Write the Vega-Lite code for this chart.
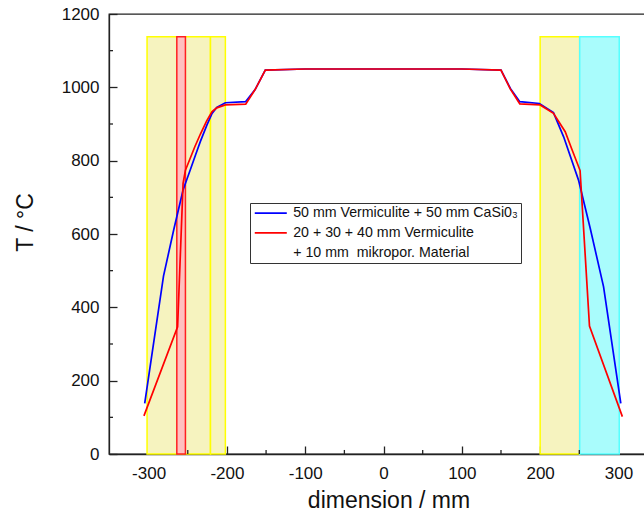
{
  "$schema": "https://vega.github.io/schema/vega-lite/v6.json",
  "width": 536,
  "height": 440,
  "autosize": {"type": "none"},
  "padding": {"left": 109, "top": 14, "right": 0, "bottom": 63},
  "background": "white",
  "config": {
    "view": {"stroke": "#222", "strokeWidth": 1.3},
    "axis": {
      "grid": false,
      "domainColor": "#222",
      "domainWidth": 1.3,
      "tickColor": "#222",
      "tickWidth": 1.3,
      "labelFont": "Liberation Sans",
      "labelFontSize": 17,
      "labelColor": "#111",
      "titleFont": "Liberation Sans",
      "titleFontSize": 23,
      "titleFontWeight": "normal",
      "titleColor": "#111"
    }
  },
  "datasets": {
    "zones": [
      {"from": -302, "to": -221, "bottom": 0, "top": 1138, "zone": "A"},
      {"from": -221, "to": -202, "bottom": 0, "top": 1138, "zone": "A"},
      {"from": -264, "to": -253, "bottom": 0, "top": 1138, "zone": "B"},
      {"from": 200, "to": 250.5, "bottom": 0, "top": 1138, "zone": "A"},
      {"from": 250.5, "to": 301, "bottom": 0, "top": 1138, "zone": "C"}
    ],
    "minorX": [{"v": -250}, {"v": -150}, {"v": -50}, {"v": 50}, {"v": 150}, {"v": 250}],
    "minorY": [{"v": 100}, {"v": 300}, {"v": 500}, {"v": 700}, {"v": 900}, {"v": 1100}],
    "series": [
      {"s": "50 mm Vermiculite + 50 mm CaSi0₃", "x": -305, "T": 138},
      {"s": "50 mm Vermiculite + 50 mm CaSi0₃", "x": -281, "T": 485},
      {"s": "50 mm Vermiculite + 50 mm CaSi0₃", "x": -268, "T": 611},
      {"s": "50 mm Vermiculite + 50 mm CaSi0₃", "x": -256, "T": 720},
      {"s": "50 mm Vermiculite + 50 mm CaSi0₃", "x": -247, "T": 774},
      {"s": "50 mm Vermiculite + 50 mm CaSi0₃", "x": -240, "T": 816},
      {"s": "50 mm Vermiculite + 50 mm CaSi0₃", "x": -234, "T": 852},
      {"s": "50 mm Vermiculite + 50 mm CaSi0₃", "x": -226, "T": 895},
      {"s": "50 mm Vermiculite + 50 mm CaSi0₃", "x": -219, "T": 929},
      {"s": "50 mm Vermiculite + 50 mm CaSi0₃", "x": -213, "T": 945},
      {"s": "50 mm Vermiculite + 50 mm CaSi0₃", "x": -202, "T": 958},
      {"s": "50 mm Vermiculite + 50 mm CaSi0₃", "x": -176, "T": 961},
      {"s": "50 mm Vermiculite + 50 mm CaSi0₃", "x": -164, "T": 994},
      {"s": "50 mm Vermiculite + 50 mm CaSi0₃", "x": -151, "T": 1047},
      {"s": "50 mm Vermiculite + 50 mm CaSi0₃", "x": -100, "T": 1050},
      {"s": "50 mm Vermiculite + 50 mm CaSi0₃", "x": -50, "T": 1050},
      {"s": "50 mm Vermiculite + 50 mm CaSi0₃", "x": 0, "T": 1050},
      {"s": "50 mm Vermiculite + 50 mm CaSi0₃", "x": 50, "T": 1050},
      {"s": "50 mm Vermiculite + 50 mm CaSi0₃", "x": 100, "T": 1050},
      {"s": "50 mm Vermiculite + 50 mm CaSi0₃", "x": 150, "T": 1047},
      {"s": "50 mm Vermiculite + 50 mm CaSi0₃", "x": 162, "T": 997},
      {"s": "50 mm Vermiculite + 50 mm CaSi0₃", "x": 174, "T": 961},
      {"s": "50 mm Vermiculite + 50 mm CaSi0₃", "x": 199, "T": 956},
      {"s": "50 mm Vermiculite + 50 mm CaSi0₃", "x": 217, "T": 931},
      {"s": "50 mm Vermiculite + 50 mm CaSi0₃", "x": 230, "T": 865},
      {"s": "50 mm Vermiculite + 50 mm CaSi0₃", "x": 249, "T": 747},
      {"s": "50 mm Vermiculite + 50 mm CaSi0₃", "x": 264, "T": 615},
      {"s": "50 mm Vermiculite + 50 mm CaSi0₃", "x": 281, "T": 456},
      {"s": "50 mm Vermiculite + 50 mm CaSi0₃", "x": 303, "T": 138},
      {"s": "20 + 30 + 40 mm Vermiculite", "x": -306, "T": 104},
      {"s": "20 + 30 + 40 mm Vermiculite", "x": -263, "T": 347},
      {"s": "20 + 30 + 40 mm Vermiculite", "x": -256, "T": 738},
      {"s": "20 + 30 + 40 mm Vermiculite", "x": -253, "T": 774},
      {"s": "20 + 30 + 40 mm Vermiculite", "x": -241, "T": 838},
      {"s": "20 + 30 + 40 mm Vermiculite", "x": -234, "T": 872},
      {"s": "20 + 30 + 40 mm Vermiculite", "x": -226, "T": 908},
      {"s": "20 + 30 + 40 mm Vermiculite", "x": -219, "T": 934},
      {"s": "20 + 30 + 40 mm Vermiculite", "x": -213, "T": 944},
      {"s": "20 + 30 + 40 mm Vermiculite", "x": -202, "T": 952},
      {"s": "20 + 30 + 40 mm Vermiculite", "x": -176, "T": 954},
      {"s": "20 + 30 + 40 mm Vermiculite", "x": -164, "T": 994},
      {"s": "20 + 30 + 40 mm Vermiculite", "x": -151, "T": 1047},
      {"s": "20 + 30 + 40 mm Vermiculite", "x": -100, "T": 1050},
      {"s": "20 + 30 + 40 mm Vermiculite", "x": 0, "T": 1050},
      {"s": "20 + 30 + 40 mm Vermiculite", "x": 100, "T": 1050},
      {"s": "20 + 30 + 40 mm Vermiculite", "x": 150, "T": 1047},
      {"s": "20 + 30 + 40 mm Vermiculite", "x": 162, "T": 995},
      {"s": "20 + 30 + 40 mm Vermiculite", "x": 174, "T": 955},
      {"s": "20 + 30 + 40 mm Vermiculite", "x": 200, "T": 952},
      {"s": "20 + 30 + 40 mm Vermiculite", "x": 217, "T": 929},
      {"s": "20 + 30 + 40 mm Vermiculite", "x": 232, "T": 879},
      {"s": "20 + 30 + 40 mm Vermiculite", "x": 240, "T": 834},
      {"s": "20 + 30 + 40 mm Vermiculite", "x": 251, "T": 773},
      {"s": "20 + 30 + 40 mm Vermiculite", "x": 263, "T": 349},
      {"s": "20 + 30 + 40 mm Vermiculite", "x": 305, "T": 102}
    ]
  },
  "layer": [
    {
      "data": {"name": "zones"},
      "mark": {"type": "rect", "strokeWidth": 1.5},
      "encoding": {
        "x": {
          "field": "from",
          "type": "quantitative",
          "scale": {"domain": [-350.6, 333.9], "nice": false, "zero": false},
          "axis": {
            "title": "dimension / mm",
            "values": [-300, -200, -100, 0, 100, 200, 300],
            "labelExpr": "'' + datum.value",
            "tickSize": -8,
            "labelPadding": 19,
            "titlePadding": 8,
            "titleX": 279.5
          }
        },
        "x2": {"field": "to"},
        "y": {
          "field": "bottom",
          "type": "quantitative",
          "scale": {"domain": [0, 1200], "nice": false},
          "axis": {
            "title": "T / °C",
            "values": [0, 200, 400, 600, 800, 1000, 1200],
            "labelExpr": "'' + datum.value",
            "tickSize": -8,
            "labelPadding": 18,
            "titlePadding": 24,
            "titleY": 208
          }
        },
        "y2": {"field": "top"},
        "fill": {
          "field": "zone",
          "type": "nominal",
          "scale": {"domain": ["A", "B", "C"], "range": ["#f6f3bf", "#ffc0c0", "#a9fcfc"]},
          "legend": null
        },
        "stroke": {
          "field": "zone",
          "type": "nominal",
          "scale": {"domain": ["A", "B", "C"], "range": ["#ffff00", "#ff2020", "#55ffff"]},
          "legend": null
        }
      }
    },
    {
      "data": {"name": "minorX"},
      "mark": {"type": "rule", "color": "#222", "strokeWidth": 1.3},
      "encoding": {
        "x": {"field": "v", "type": "quantitative"},
        "y": {"datum": 0},
        "y2": {"datum": 11}
      }
    },
    {
      "data": {"name": "minorY"},
      "mark": {"type": "rule", "color": "#222", "strokeWidth": 1.3},
      "encoding": {
        "y": {"field": "v", "type": "quantitative"},
        "x": {"datum": -350.6},
        "x2": {"datum": -345.5}
      }
    },
    {
      "data": {"name": "series"},
      "mark": {"type": "line", "strokeWidth": 1.7},
      "encoding": {
        "x": {"field": "x", "type": "quantitative"},
        "y": {"field": "T", "type": "quantitative"},
        "color": {
          "field": "s",
          "type": "nominal",
          "scale": {
            "domain": ["50 mm Vermiculite + 50 mm CaSi0₃", "20 + 30 + 40 mm Vermiculite", "\u00a0+ 10 mm\u00a0 mikropor. Material"],
            "range": ["#0000ff", "#ff0000", "rgba(255,255,255,0)"]
          },
          "legend": {
            "title": null,
            "orient": "none",
            "legendX": 141,
            "legendY": 189,
            "direction": "vertical",
            "symbolType": "M-1,0H5",
            "symbolSize": 114,
            "symbolStrokeWidth": 1.7,
            "symbolFillColor": "transparent",
            "labelFont": "Liberation Sans",
            "labelFontSize": 14.2,
            "labelColor": "#111",
            "labelLimit": 500,
            "labelOffset": 26,
            "rowPadding": 4.8,
            "padding": 3,
            "strokeColor": "#333",
            "fillColor": "white"
          }
        }
      }
    }
  ]
}
